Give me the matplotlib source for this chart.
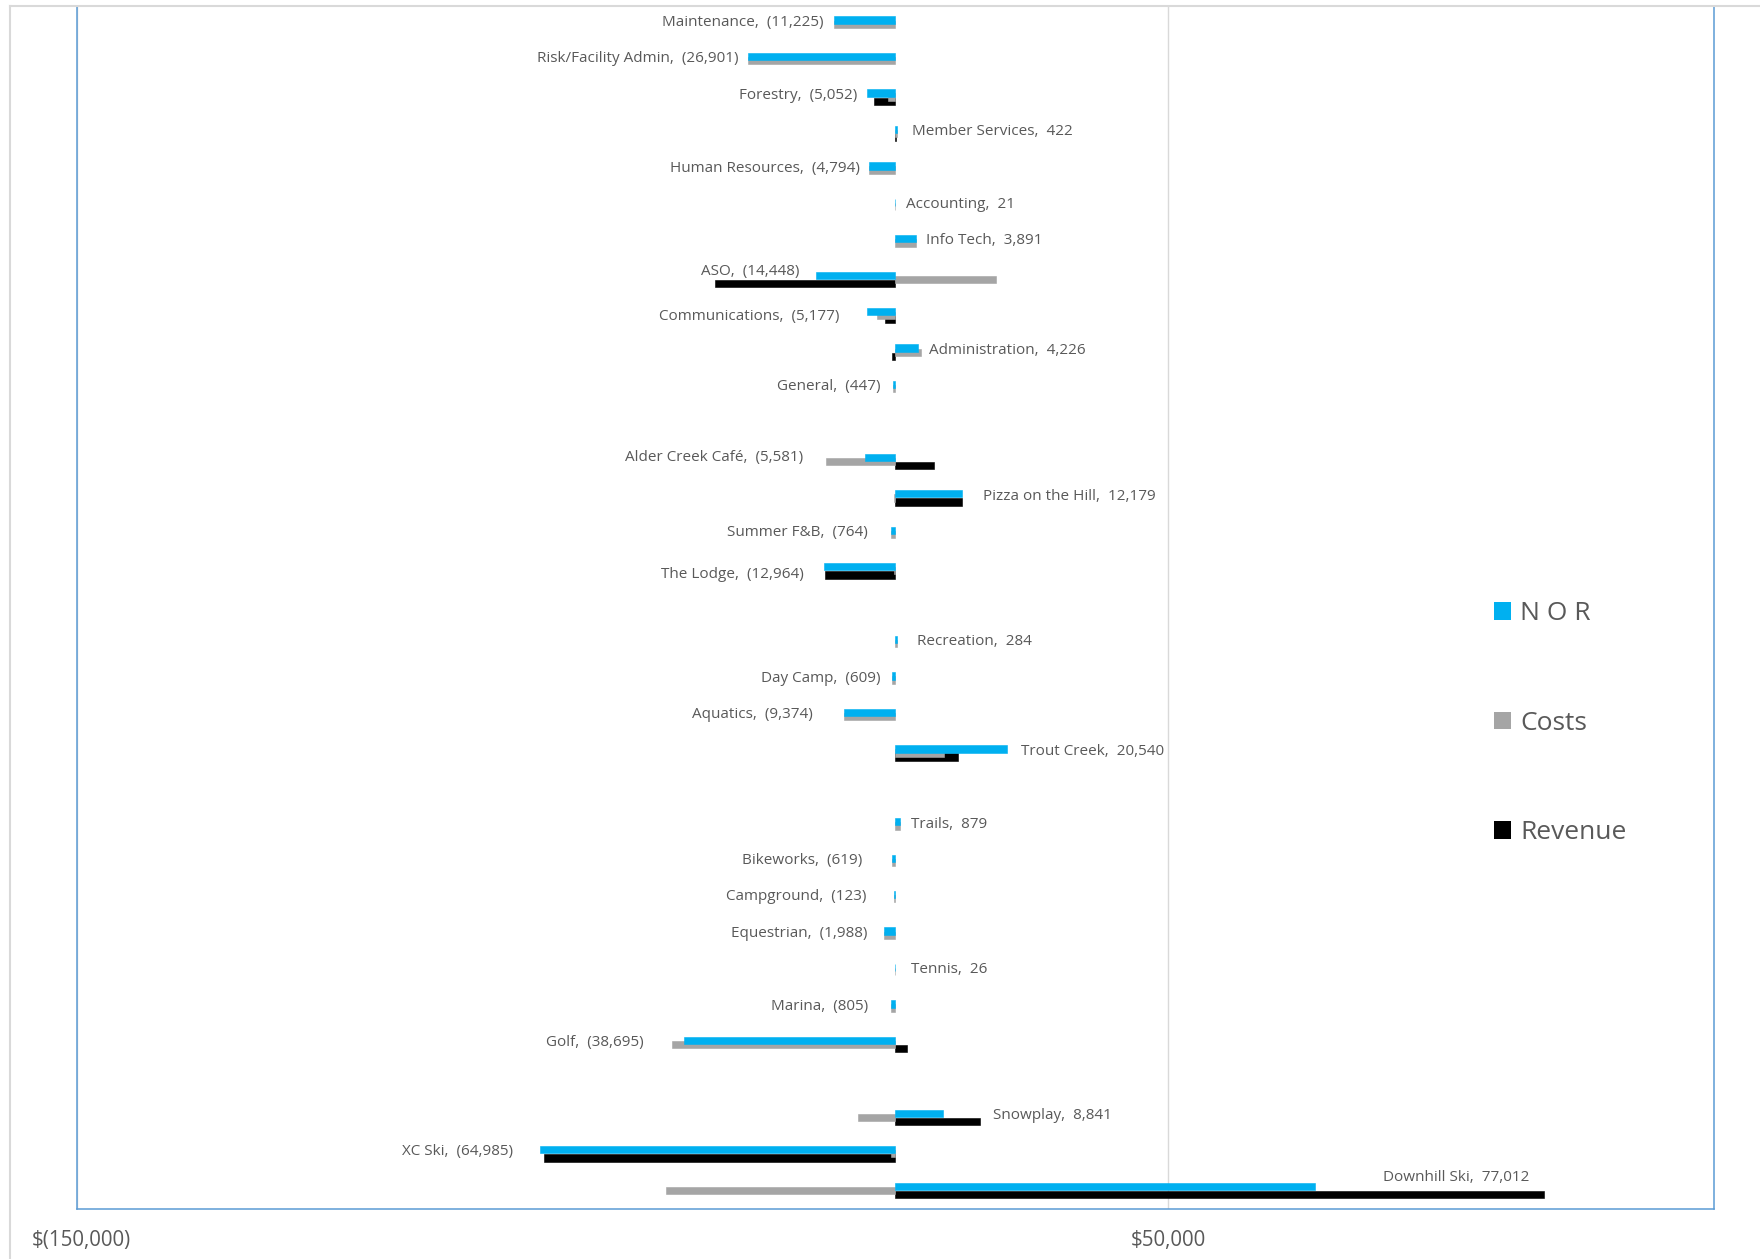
import numpy as np
import matplotlib
matplotlib.use("Agg")
import matplotlib.pyplot as plt
import matplotlib.transforms as mtransforms
from matplotlib.patches import Patch
from matplotlib.lines import Line2D
from matplotlib.ticker import FixedLocator, FuncFormatter

plt.rcParams["font.family"] = ["Open Sans", "DejaVu Sans"]

# Departments top to bottom; empty strings are spacer rows between divisions
departments = [
    "Maintenance", "Risk/Facility Admin", "Forestry", "Member Services",
    "Human Resources", "Accounting", "Info Tech", "ASO", "Communications",
    "Administration", "General", "",
    "Alder Creek Café", "Pizza on the Hill", "Summer F&B", "The Lodge", "",
    "Recreation", "Day Camp", "Aquatics", "Trout Creek", "",
    "Trails", "Bikeworks", "Campground", "Equestrian", "Tennis", "Marina",
    "Golf", "",
    "Snowplay", "XC Ski", "Downhill Ski",
]
nan = np.nan
nor = [
    -11225, -26901, -5052, 422, -4794, 21, 3891, -14448, -5177, 4226, -447, nan,
    -5581, 12179, -764, -12964, nan,
    284, -609, -9374, 20540, nan,
    879, -619, -123, -1988, 26, -805, -38695, nan,
    8841, -64985, 77012,
]
costs = [
    -11225, -26901, -1250, 300, -4794, 21, 3891, 18500, -3350, 4700, -447, nan,
    -12650, -120, -764, -214, nan,
    284, -609, -9374, 9050, nan,
    879, -619, -123, -1988, 26, -805, -40850, nan,
    -6700, -665, -41950,
]
revenue = [
    0, 0, -3800, 120, 0, 0, 0, -32950, -1830, -475, 0, nan,
    7070, 12300, 0, -12750, nan,
    0, 0, 0, 11490, nan,
    0, 0, 0, 0, 0, 0, 2155, nan,
    15540, -64320, 118960,
]
series_names = ["N O R", "Costs", "Revenue"]
x_ticks = [-150000, 50000]

# Label placement: (outward gap px, upward shift px) from each N O R bar end
label_nudge = {
    0: (10.5, 0), 1: (10.2, 0), 2: (9.8, 0), 3: (14.7, 0), 4: (9.3, 0),
    5: (11.2, 0), 6: (10.2, 0), 7: (16.7, 6), 8: (27.5, -2.6), 9: (11.1, 0),
    10: (12, 0), 12: (61.2, 1.8), 13: (21, 0), 14: (23.1, 0), 15: (20.9, -5.6),
    17: (20, 0), 18: (10.8, 0), 19: (31.2, 0), 20: (13.5, 0), 22: (11.2, 0),
    23: (29, 0), 24: (28.2, 0), 25: (16.4, 0), 26: (15.9, 0), 27: (22.9, 0),
    28: (40.5, 0), 30: (49.4, 0), 31: (27.9, 0), 32: (68, 11),
}

C_NOR, C_COST, C_REV = "#00B0F0", "#A5A5A5", "#000000"
TXT = "#595959"
W, H, DPI = 1760, 1259, 100

fig = plt.figure(figsize=(W / DPI, H / DPI), dpi=DPI)
ax = fig.add_axes([76.5 / W, (H - 1208.5) / H, (1713.6 - 76.5) / W, 1202.5 / H])

y = np.arange(len(departments))
nor_a = np.array(nor, dtype=float)
cost_a = np.array(costs, dtype=float)
rev_a = np.array(revenue, dtype=float)
valid = ~np.isnan(nor_a)

bar_h = 0.2
step = 0.112


def draw_series(offset, vals, color, z):
    v = vals[valid]
    # a hairline edge keeps very small non-zero bars visible
    lw = np.where(v == 0, 0.0, 0.4)
    ax.barh(y[valid] + offset, v, height=bar_h, color=color,
            edgecolor=color, linewidth=lw, zorder=z)


draw_series(step, rev_a, C_REV, 2)
draw_series(0.0, cost_a, C_COST, 3)
draw_series(-step, nor_a, C_NOR, 4)


def money(v):
    return f"({abs(int(v)):,})" if v < 0 else f"{int(v):,}"


for i in np.where(valid)[0]:
    v = nor_a[i]
    gap, up = label_nudge.get(i, (10, 0))
    sign = -1 if v < 0 else 1
    ax.annotate(f"{departments[i]},  {money(v)}", xy=(v, y[i] - step),
                xytext=(sign * gap * 0.72, (up - 2.2) * 0.72),
                textcoords="offset points",
                ha="right" if v < 0 else "left", va="center",
                fontsize=11, color=TXT, zorder=5)

ax.set_xlim(-150000, 150000)
ax.set_ylim(len(departments) - 0.5, -0.5)
ax.xaxis.set_major_locator(FixedLocator(x_ticks))
ax.xaxis.set_major_formatter(FuncFormatter(
    lambda v, _: f"$({abs(int(v)):,})" if v < 0 else f"${int(v):,}"))
ax.set_yticks([])
ax.tick_params(axis="x", length=0, labelsize=14.8, labelcolor=TXT, pad=15.5)
ax.grid(axis="x", color="#D9D9D9", linewidth=1.0, zorder=0)
ax.set_axisbelow(True)

for side in ("left", "right", "bottom"):
    ax.spines[side].set_color("#5B9BD5")
    ax.spines[side].set_linewidth(1.1)
ax.spines["top"].set_visible(False)

# Chart area border (top and left edges)
border = "#D9D9D9"
fig.add_artist(Line2D([9.6 / W, 1], [1 - 6 / H, 1 - 6 / H], color=border, lw=1.5,
                      transform=fig.transFigure))
fig.add_artist(Line2D([9.6 / W, 9.6 / W], [0, 1 - 6 / H], color=border, lw=1.5,
                      transform=fig.transFigure))

handles = [Patch(facecolor=c, edgecolor="none") for c in (C_NOR, C_COST, C_REV)]
leg = fig.legend(handles, series_names, loc="center left",
                 bbox_to_anchor=(1494.3 / W, 1 - 723.3 / H), frameon=False,
                 fontsize=19, labelcolor=TXT, handlelength=0.63,
                 handleheight=0.63, handletextpad=0.35, labelspacing=3.2,
                 borderpad=0, borderaxespad=0)

# nudge the leftmost tick label clear of the chart border
fig.canvas.draw()
first = ax.get_xticklabels()[0]
first.set_transform(first.get_transform() +
                    mtransforms.ScaledTranslation(4.5 / DPI, 0, fig.dpi_scale_trans))

fig.savefig("out.png", dpi=DPI)
